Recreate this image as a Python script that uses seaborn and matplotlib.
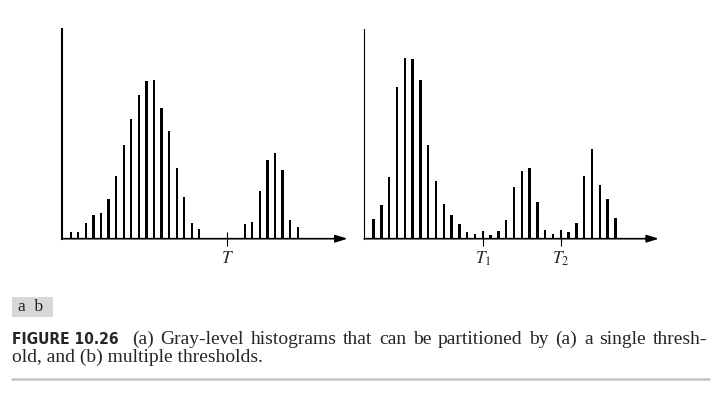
import numpy as np
import pandas as pd
import matplotlib
matplotlib.use("Agg")
import matplotlib.pyplot as plt
import seaborn as sns
from matplotlib.patches import Rectangle
from matplotlib.lines import Line2D

# ---- data (gray level bins and relative counts) ----
left_counts = [7, 7, 16, 24, 26, 40, 63, 94, 120, 144, 158, 159, 131, 108, 71, 42, 16, 10,
               0, 0, 0, 0, 0, 15, 17, 48, 79, 86, 69, 19, 12]
right_counts = [20, 34, 62, 152, 181, 180, 159, 94, 58, 35, 24, 15, 7, 5, 8, 4, 8, 19,
                52, 68, 71, 37, 9, 5, 9, 7, 16, 63, 90, 54, 40, 21]
left_levels = list(range(len(left_counts)))
right_levels = list(range(len(right_counts)))
left_thresholds = [20.66]
left_threshold_labels = [r"$T$"]
right_thresholds = [14, 24]
right_threshold_labels = [r"$T_1$", r"$T_2$"]
panel_labels = "a  b"
caption_head = "FIGURE 10.26"
caption_line1 = "(a) Gray-level histograms that can be partitioned by (a) a single thresh-"
caption_line2 = "old, and (b) multiple thresholds."

sns.set_style("white")
plt.rcParams["mathtext.fontset"] = "stix"

W, H = 720, 397
fig = plt.figure(figsize=(W / 100, H / 100), dpi=100)


def px_axes(x0, x1, ytop, ybot):
    return fig.add_axes([x0 / W, (H - ybot) / H, (x1 - x0) / W, (ybot - ytop) / H])


ax1 = px_axes(62.3, 347.7, 29.3, 238.7)
ax2 = px_axes(364.3, 659.0, 29.3, 238.7)

panels = [
    (ax1, left_levels, left_counts, left_thresholds, left_threshold_labels, (-1.11, 36.6), 1.5),
    (ax2, right_levels, right_counts, right_thresholds, right_threshold_labels, (-1.2, 36.6), 0.8),
]

for ax, lv, ct, th, thl, xl, spw in panels:
    df = pd.DataFrame({"level": lv, "count": ct})
    sns.barplot(data=df, x="level", y="count", native_scale=True, width=0.3,
                color="black", saturation=1, linewidth=0, errorbar=None, ax=ax)
    ax.set_xlim(*xl)
    ax.set_ylim(0, 209.4)
    ax.set_xlabel("")
    ax.set_ylabel("")
    ax.set_yticks([])
    ax.set_xticks(th)
    ax.set_xticklabels(thl, fontsize=12.5)
    ax.tick_params(axis="x", bottom=True, direction="inout", length=9.5, width=0.8,
                   pad=3, color="black")
    for s in ["top", "right", "bottom"]:
        ax.spines[s].set_visible(False)
    ax.spines["left"].set_color("black")
    ax.spines["left"].set_linewidth(spw)
    ax.patch.set_alpha(0)
    ax.annotate("", xy=(1, 0), xytext=(0, 0), xycoords="axes fraction",
                textcoords="axes fraction", annotation_clip=False,
                arrowprops=dict(arrowstyle="-|>,head_length=0.72,head_width=0.22",
                                mutation_scale=10, color="black", lw=1.2,
                                shrinkA=0, shrinkB=0))

# ---- panel letter box ----
fig.patches.append(Rectangle((12.3 / W, (H - 316.7) / H), 40.4 / W, 20 / H,
                             transform=fig.transFigure, facecolor="#d6d9d6",
                             edgecolor="none"))
fig.text(18 / W, (H - 307) / H, panel_labels, family="Liberation Serif", fontsize=12.5,
         va="center", ha="left", color="#222222")

# ---- caption ----
CAP_FS = 14.0
y1 = (H - 344.3) / H
y2 = (H - 361.5) / H
t_head = fig.text(12 / W, y1, caption_head,
                  family=["Liberation Sans Narrow", "DejaVu Sans"], stretch="condensed",
                  weight="bold", fontsize=12.5, va="baseline", ha="left")
t2 = fig.text(12 / W, y2, caption_line2, family="Liberation Serif",
              fontsize=CAP_FS, va="baseline", ha="left")

fig.canvas.draw()
r = fig.canvas.get_renderer()
w = t_head.get_window_extent(r).width
t_head.set_fontsize(t_head.get_fontsize() * 106.7 / w)

# justified first caption line between x=132 and x=707
words = caption_line1.split(" ")
wtexts = [fig.text(0, y1, wd, family="Liberation Serif", fontsize=CAP_FS,
                   va="baseline", ha="left") for wd in words]
fig.canvas.draw()
widths = [t.get_window_extent(r).width for t in wtexts]
gap = (707.0 - 132.0 - sum(widths)) / (len(words) - 1)
x = 132.0
for t, wd in zip(wtexts, widths):
    t.set_x(x / W)
    x += wd + gap

fig.lines.append(Line2D([12 / W, 709 / W], [(H - 379) / H] * 2, transform=fig.transFigure,
                        color="#c4c4c4", lw=1.8))

fig.savefig("out.png", dpi=100, facecolor="white")
